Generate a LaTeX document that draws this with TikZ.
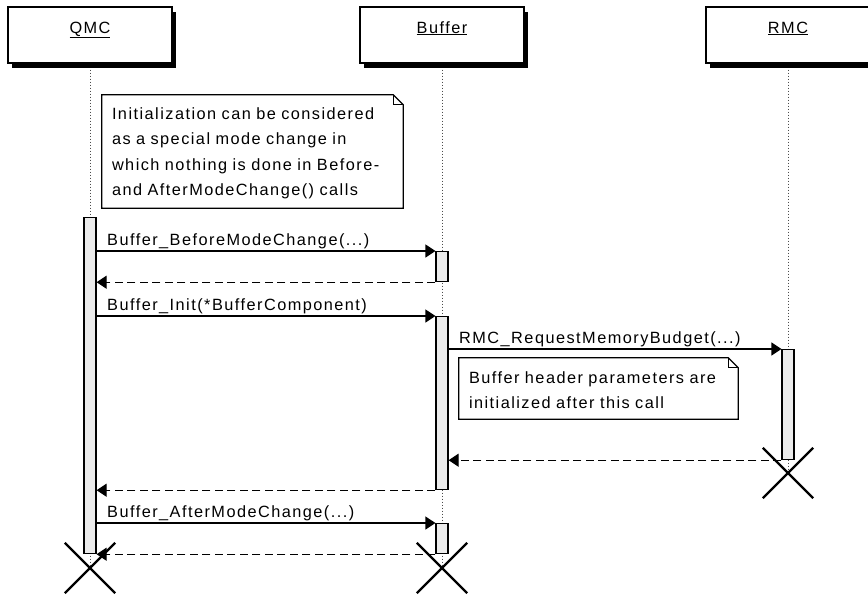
\documentclass[tikz,border=0pt]{standalone}
\usepackage{fontspec}
\setmainfont{Liberation Sans}[LetterSpace=9]
\usetikzlibrary{arrows.meta,shapes.misc,backgrounds}
\definecolor{actgray}{RGB}{235,235,235}
\tikzset{
	partbox/.style={draw, line width=1.3pt, fill=white, minimum width=164pt, minimum height=56pt, inner sep=0pt, text height=12pt, text depth=16pt, preaction={draw=none, fill=black, transform canvas={shift={(4pt,-5pt)}}}},
	lifeline/.style={draw=black!70, line width=0.8pt, dash pattern=on 1.5pt off 1.5pt},
	actbar/.style={draw, line width=1.2pt, fill=actgray, minimum width=12pt, inner sep=0pt, anchor=north},
	msg/.style={line width=1.2pt, -{Triangle[length=10pt,width=13pt]}},
	ret/.style={msg, dash pattern=on 8pt off 4.5pt},
	msglabel/.style={anchor=base west, inner sep=0pt, xshift=10pt, yshift=6pt},
	notebox/.style={align=left, inner sep=0pt, text width=#1},
	killmark/.style={cross out, draw, line width=2.4pt, minimum size=48pt, inner sep=0pt}
}
\def\dognote(#1){\draw[line width=1.2pt] (#1.north west) -- ([xshift=-10pt]#1.north east) -- ([yshift=-10pt]#1.north east) -- (#1.south east) -- (#1.south west) -- cycle;
	\draw[line width=1pt] ([xshift=-10pt]#1.north east) -- ([xshift=-10pt,yshift=-10pt]#1.north east) -- ([yshift=-10pt]#1.north east);}

\begin{document}
\begin{tikzpicture}[x=1pt, y=-1pt, font=\fontsize{16.3}{25.5}\selectfont]
		%%%%% START %%%%%
		\useasboundingbox (0,0) rectangle (868,597);
		
		\node[partbox] (qmc) at (90,35) {\underline{QMC}};
		\node[partbox] (buffer) at (442,35) {\underline{Buffer}};
		\node[partbox] (rmc) at (788,35) {\underline{RMC}};
		
		\node[actbar, minimum height=336pt] (qmcAct) at (90,217) {};
		\node[actbar, minimum height=30pt] (bufAct1) at (442,251) {};
		\node[actbar, minimum height=173pt] (bufAct2) at (442,316) {};
		\node[actbar, minimum height=110pt] (rmcAct) at (788,349) {};
		\node[actbar, minimum height=30pt] (bufAct3) at (442,523) {};
		
		\node[killmark] (qmcEnd) at (90,568) {};
		\node[killmark] (bufEnd) at (442,568) {};
		\node[killmark] (rmcEnd) at (788,473) {};
		
		\begin{pgfonlayer}{background}
			\draw[lifeline] (qmc.south) -- (qmcEnd.center);
			\draw[lifeline] (buffer.south) -- (bufEnd.center);
			\draw[lifeline] (rmc.south) -- (rmcEnd.center);
		\end{pgfonlayer}
		
		\node[notebox=281pt, minimum width=301pt, minimum height=113pt] (initNote) at (252.5,151.5) {\rule{0pt}{15pt}Initialization can be considered\\as a special mode change in\\which nothing is done in Before-\\and AfterModeChange() calls};
		\dognote(initNote)
		
		\draw[msg] (qmcAct.east |- bufAct1.north) -- (bufAct1.north west) node[msglabel, pos=0] {Buffer\_BeforeModeChange(...)};
		\draw[ret] (bufAct1.south west) -- (qmcAct.east |- bufAct1.south);
		
		\draw[msg] (qmcAct.east |- bufAct2.north) -- (bufAct2.north west) node[msglabel, pos=0] {Buffer\_Init(*BufferComponent)};
		\draw[msg] (bufAct2.east |- rmcAct.north) -- (rmcAct.north west) node[msglabel, pos=0] {RMC\_RequestMemoryBudget(...)};
		
		\node[notebox=259pt, minimum width=279pt, minimum height=61pt] (headerNote) at (598.5,388.5) {\rule{0pt}{15pt}Buffer header parameters are\\initialized after this call};
		\dognote(headerNote)
		
		\draw[ret] (rmcAct.south west) -- (bufAct2.east |- rmcAct.south);
		\draw[ret] (bufAct2.south west) -- (qmcAct.east |- bufAct2.south);
		
		\draw[msg] (qmcAct.east |- bufAct3.north) -- (bufAct3.north west) node[msglabel, pos=0] {Buffer\_AfterModeChange(...)};
		\draw[ret] (bufAct3.south west) -- (qmcAct.south east);
		
		%%%%% END %%%%%
	\end{tikzpicture}
\end{document}
